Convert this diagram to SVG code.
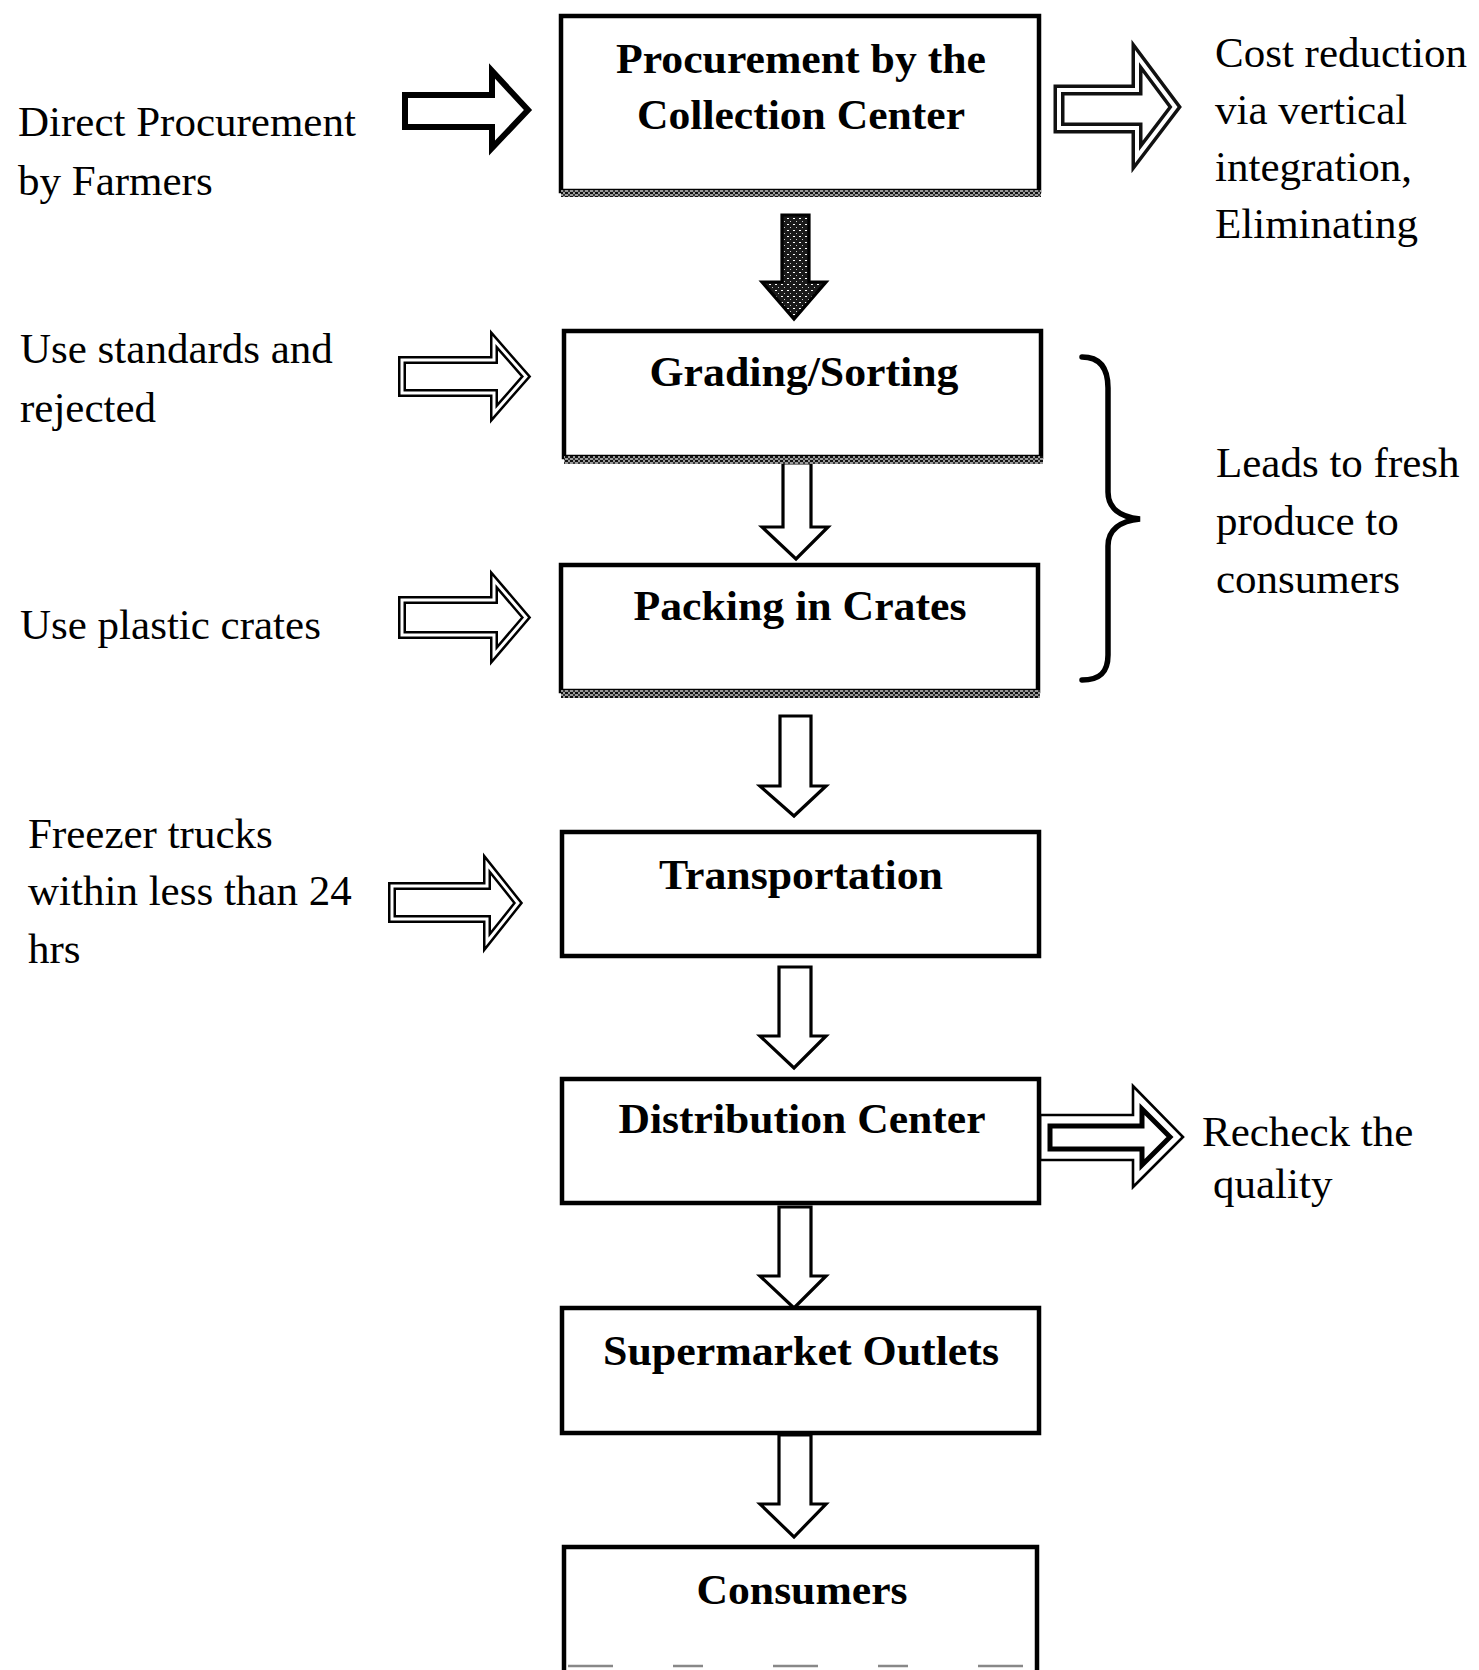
<svg xmlns="http://www.w3.org/2000/svg" width="1479" height="1670" viewBox="0 0 1479 1670">
<defs>
<pattern id="dots" width="5" height="4" patternUnits="userSpaceOnUse">
<rect width="5" height="4" fill="#9a9a9a"/>
<rect width="3" height="2" fill="#111"/>
<rect x="3" y="2" width="2" height="2" fill="#333"/>
</pattern>
<pattern id="dark" width="6" height="6" patternUnits="userSpaceOnUse">
<rect width="6" height="6" fill="#1a1a1a"/>
<rect x="1" y="2" width="2" height="1" fill="#fff"/>
<rect x="4" y="5" width="1" height="1" fill="#ccc"/>
</pattern>
</defs>
<style>
.box{fill:#fff;stroke:#000;stroke-width:4.5}
.band{fill:url(#dots)}
.bt{font-family:"Liberation Serif","Times New Roman",serif;font-weight:bold;font-size:42px;fill:#000;text-anchor:middle}
.lt{font-family:"Liberation Serif","Times New Roman",serif;font-size:43px;fill:#000}
.single{fill:#fff;stroke:#000;stroke-width:3.2;stroke-linejoin:miter}
.thick{fill:#fff;stroke:#000;stroke-width:6;stroke-linejoin:miter}
.dblo{fill:#fff;stroke:#000;stroke-width:8;stroke-linejoin:miter}
.dbli{fill:none;stroke:#fff;stroke-width:3;stroke-linejoin:miter}
.heavyo{fill:#fff;stroke:#111;stroke-width:11;stroke-linejoin:miter}
.heavyi{fill:none;stroke:#fff;stroke-width:4;stroke-linejoin:miter}
.brace{fill:none;stroke:#000;stroke-width:5.5;stroke-linecap:round}
</style>
<rect width="1479" height="1670" fill="#fff"/>

<g id="connectors">
<!-- left input arrows -->
<path class="thick" d="M405,95 L492,95 L492,71 L528,110 L492,148 L492,127 L405,127 Z"/>
<path class="dblo" d="M402,360 L494,360 L494,340 L526,376.5 L494,413 L494,393 L402,393 Z"/>
<path class="dbli" d="M402,360 L494,360 L494,340 L526,376.5 L494,413 L494,393 L402,393 Z"/>
<path class="dblo" d="M402,600 L494,600 L494,580 L526,617.5 L494,655 L494,635 L402,635 Z"/>
<path class="dbli" d="M402,600 L494,600 L494,580 L526,617.5 L494,655 L494,635 L402,635 Z"/>
<path class="dblo" d="M392,886 L487,886 L487,864 L518,903 L487,942 L487,919 L392,919 Z"/>
<path class="dbli" d="M392,886 L487,886 L487,864 L518,903 L487,942 L487,919 L392,919 Z"/>
<!-- right output arrows -->
<path class="heavyo" d="M1059,90 L1137,90 L1137,56 L1175,107 L1137,157 L1137,128 L1059,128 Z"/>
<path class="heavyi" d="M1059,90 L1137,90 L1137,56 L1175,107 L1137,157 L1137,128 L1059,128 Z"/>
<path class="single" style="stroke-width:2.6" d="M1040,1115 L1133,1115 L1133,1086 L1183,1137 L1133,1187 L1133,1160 L1040,1160 Z"/>
<path class="thick" style="stroke-width:5" d="M1050,1126 L1142,1126 L1142,1109 L1170,1137 L1142,1165 L1142,1149 L1050,1149 Z"/>
<!-- down arrows -->
<path class="single" style="fill:url(#dark)" d="M782,215 L809,215 L809,282 L826,282 L794,319 L762,282 L782,282 Z"/>
<path class="single" d="M783,463 L811,463 L811,527 L828,527 L796,559 L762,527 L783,527 Z"/>
<path class="single" d="M780,716 L811,716 L811,786 L826,786 L794,816 L760,786 L780,786 Z"/>
<path class="single" d="M779,967 L811,967 L811,1036 L826,1036 L794,1068 L760,1036 L779,1036 Z"/>
<path class="single" d="M779,1207 L811,1207 L811,1276 L826,1276 L794,1308 L760,1276 L779,1276 Z"/>
<path class="single" d="M779,1435 L811,1435 L811,1504 L826,1504 L794,1537 L760,1504 L779,1504 Z"/>
<!-- brace -->
<path class="brace" d="M1082,357 C1100,357 1108,368 1108,388 L1108,492 C1108,508 1120,517 1140,519 C1120,521 1108,530 1108,546 L1108,655 C1108,672 1100,680 1082,680"/>
</g>

<g id="n-procurement">
<rect class="box" x="561" y="16" width="478" height="175"/>
<rect class="band" x="561" y="190" width="480" height="7"/>
<text class="bt" x="801" y="73" textLength="370" lengthAdjust="spacingAndGlyphs">Procurement by the</text>
<text class="bt" x="801" y="129" textLength="328" lengthAdjust="spacingAndGlyphs">Collection Center</text>
</g>

<g id="n-grading">
<rect class="box" x="564" y="331" width="477" height="126"/>
<rect class="band" x="564" y="456" width="479" height="8"/>
<text class="bt" x="804" y="386" textLength="309" lengthAdjust="spacingAndGlyphs">Grading/Sorting</text>
</g>

<g id="n-packing">
<rect class="box" x="561" y="565" width="477" height="126"/>
<rect class="band" x="561" y="690" width="479" height="8"/>
<text class="bt" x="800" y="620" textLength="333" lengthAdjust="spacingAndGlyphs">Packing in Crates</text>
</g>

<g id="n-transport">
<rect class="box" x="562" y="832" width="477" height="124"/>
<text class="bt" x="801" y="889" textLength="284" lengthAdjust="spacingAndGlyphs">Transportation</text>
</g>

<g id="n-distribution">
<rect class="box" x="562" y="1079" width="477" height="124"/>
<text class="bt" x="802" y="1133" textLength="367" lengthAdjust="spacingAndGlyphs">Distribution Center</text>
</g>

<g id="n-supermarket">
<rect class="box" x="562" y="1308" width="477" height="125"/>
<text class="bt" x="801" y="1365" textLength="396" lengthAdjust="spacingAndGlyphs">Supermarket Outlets</text>
</g>

<g id="n-consumers">
<path d="M564,1670 L564,1547 L1037,1547 L1037,1670" fill="#fff" stroke="#000" stroke-width="4.5"/>
<line x1="568" y1="1666" x2="1033" y2="1666" stroke="#888" stroke-width="2.5" stroke-dasharray="45,60,30,70"/>
<text class="bt" x="802" y="1604" textLength="211" lengthAdjust="spacingAndGlyphs">Consumers</text>
</g>

<g id="t-direct">
<text class="lt" x="18" y="136">Direct Procurement</text>
<text class="lt" x="18" y="195">by Farmers</text>
</g>
<g id="t-standards">
<text class="lt" x="20" y="363">Use standards and</text>
<text class="lt" x="20" y="422">rejected</text>
</g>
<g id="t-crates">
<text class="lt" x="20" y="639">Use plastic crates</text>
</g>
<g id="t-freezer">
<text class="lt" x="28" y="848">Freezer trucks</text>
<text class="lt" x="28" y="905">within less than 24</text>
<text class="lt" x="28" y="963">hrs</text>
</g>
<g id="t-cost">
<text class="lt" x="1215" y="67">Cost reduction</text>
<text class="lt" x="1215" y="124">via vertical</text>
<text class="lt" x="1215" y="181">integration,</text>
<text class="lt" x="1215" y="238">Eliminating</text>
</g>
<g id="t-fresh">
<text class="lt" x="1216" y="477">Leads to fresh</text>
<text class="lt" x="1216" y="535">produce to</text>
<text class="lt" x="1216" y="593">consumers</text>
</g>
<g id="t-recheck">
<text class="lt" x="1202" y="1146">Recheck the</text>
<text class="lt" x="1213" y="1198">quality</text>
</g>
</svg>
